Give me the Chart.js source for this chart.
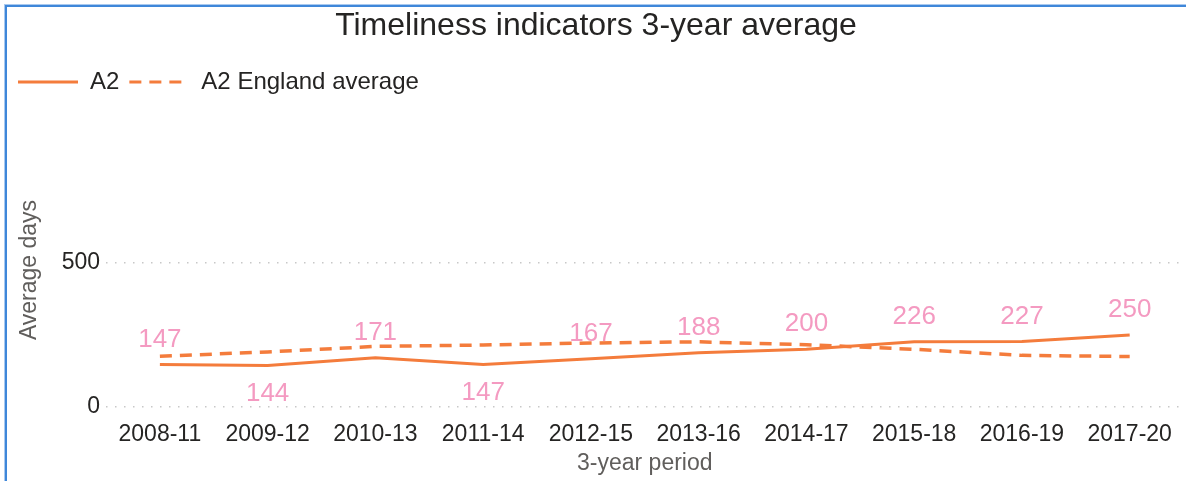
<!DOCTYPE html>
<html>
<head>
<meta charset="utf-8">
<script src="https://cdn.jsdelivr.net/npm/chart.js@4/dist/chart.umd.min.js"></script>
<style>
  html, body { margin: 0; padding: 0; background: #ffffff; }
  #wrap { position: relative; width: 1186px; height: 481px; overflow: hidden; }
  #frame { position: absolute; left: 5px; top: 5px; width: 1300px; height: 600px;
           border-top: 2px solid #3f87d9; border-left: 2px solid #3f87d9;
           box-shadow: -1px -1px 0 0 #a9c9ef; pointer-events: none; }
  canvas { position: absolute; left: 0; top: 0; }
</style>
</head>
<body>
<div id="wrap">
  <canvas id="c" width="1186" height="481"></canvas>
  <div id="frame"></div>
</div>
<script>
const categories = ['2008-11','2009-12','2010-13','2011-14','2012-15','2013-16','2014-17','2015-18','2016-19','2017-20'];
const a2Values = [147, 144, 171, 147, 167, 188, 200, 226, 227, 250];
const englandAverage = [176, 191, 210, 215, 222, 226, 216, 200, 179, 175];
const yTicks = [0, 500];
const labelSide = ['above','below','above','below','above','above','above','above','above','above'];

const FONT = "'Liberation Sans', Arial, sans-serif";
const ORANGE = '#f47c3c';
const PINK = '#f49ac1';

const dataLabels = {
  id: 'dataLabels',
  afterDatasetsDraw(chart) {
    const meta = chart.getDatasetMeta(0);
    const ctx = chart.ctx;
    ctx.save();
    ctx.font = '26px ' + FONT;
    ctx.fillStyle = PINK;
    ctx.textAlign = 'center';
    ctx.textBaseline = 'middle';
    meta.data.forEach((pt, i) => {
      const dy = labelSide[i] === 'below' ? 28 : -25;
      ctx.fillText(String(a2Values[i]), pt.x, pt.y + dy);
    });
    ctx.restore();
  }
};

const legendSpace = {
  id: 'legendSpace',
  beforeInit(chart) {
    const orig = chart.legend.fit;
    chart.legend.fit = function () {
      orig.call(this);
      this.height += 29;
    };
  }
};

new Chart(document.getElementById('c'), {
  type: 'line',
  data: {
    labels: categories,
    datasets: [
      {
        label: 'A2',
        data: a2Values,
        borderColor: ORANGE,
        backgroundColor: ORANGE,
        borderWidth: 3,
        pointRadius: 0,
        tension: 0
      },
      {
        label: 'A2 England average',
        data: englandAverage,
        borderColor: ORANGE,
        backgroundColor: ORANGE,
        borderWidth: 3.5,
        borderDash: [12, 8],
        pointRadius: 0,
        tension: 0
      }
    ]
  },
  options: {
    responsive: false,
    animation: false,
    layout: { padding: { left: 8, right: 2, top: 0, bottom: 4 } },
    plugins: {
      title: {
        display: true,
        text: 'Timeliness indicators 3-year average',
        color: '#252423',
        font: { family: FONT, size: 32, weight: 'normal' },
        padding: { top: 7, bottom: 14.6 }
      },
      legend: {
        display: true,
        position: 'top',
        align: 'start',
        labels: {
          usePointStyle: true,
          pointStyle: 'line',
          pointStyleWidth: 60,
          color: '#252423',
          font: { family: FONT, size: 24 },
          padding: 10,
          generateLabels(chart) {
            const items = Chart.defaults.plugins.legend.labels.generateLabels(chart);
            items.forEach(it => {
              const ds = chart.data.datasets[it.datasetIndex];
              it.lineDash = ds.borderDash || [];
              it.lineWidth = 3;
              it.pointStyle = 'line';
            });
            return items;
          }
        }
      },
      tooltip: { enabled: false }
    },
    scales: {
      x: {
        offset: true,
        grid: { display: false, drawTicks: false },
        border: { display: false },
        afterFit(scale) { scale.height = 70; },
        ticks: { color: '#252423', font: { family: FONT, size: 23 }, padding: 14, maxRotation: 0, autoSkip: false },
        title: { display: true, text: '3-year period', color: '#605e5c', font: { family: FONT, size: 23 }, padding: { top: 0.6, bottom: 0 } }
      },
      y: {
        min: 0,
        max: 950,
        afterBuildTicks(scale) { scale.ticks = yTicks.map(v => ({ value: v })); },
        afterFit(scale) { scale.width = 98; scale.paddingTop = 0; scale.paddingBottom = 0; },
        grid: { color: '#c8c8c8', lineWidth: 1.5, drawTicks: false },
        border: { display: false, dash: [1.5, 7.5] },
        ticks: { color: '#252423', font: { family: FONT, size: 23 }, padding: 6 },
        title: { display: true, text: 'Average days', color: '#605e5c', font: { family: FONT, size: 23 }, padding: { top: 8, bottom: 0 } }
      }
    }
  },
  plugins: [dataLabels, legendSpace]
});
</script>
</body>
</html>
